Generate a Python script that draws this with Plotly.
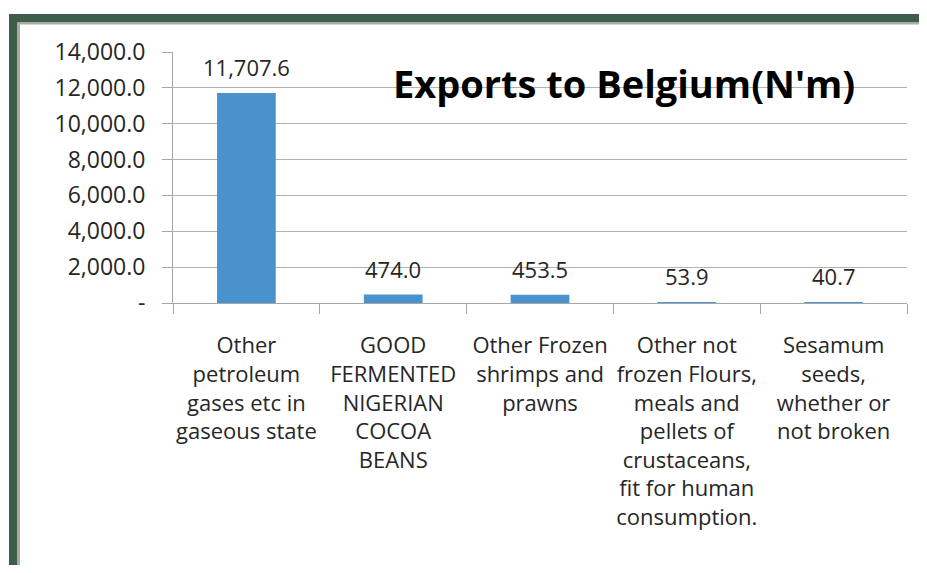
import plotly.graph_objects as go

categories = [
    "Other<br>petroleum<br>gases etc in<br>gaseous state",
    "GOOD<br>FERMENTED<br>NIGERIAN<br>COCOA<br>BEANS",
    "Other Frozen<br>shrimps and<br>prawns",
    "Other not<br>frozen Flours,<br>meals and<br>pellets of<br>crustaceans,<br>fit for human<br>consumption.",
    "Sesamum<br>seeds,<br>whether or<br>not broken",
]
values = [11707.6, 474.0, 453.5, 53.9, 40.7]
value_labels = ["11,707.6", "474.0", "453.5", "53.9", "40.7"]
y_tick_vals = [0, 2000, 4000, 6000, 8000, 10000, 12000, 14000]
y_tick_text = ["-", "2,000.0", "4,000.0", "6,000.0", "8,000.0", "10,000.0", "12,000.0", "14,000.0"]
title_text = "Exports to Belgium(N'm)"

OFF = 8  # default page body margin
W, H = 927 - OFF, 573 - 2 * OFF
L, T = 173 - OFF, 52 - OFF
PW, PH = 734, 251
R = W - L - PW
B = H - T - PH

def px(x):  # page pixel -> paper
    return (x - OFF - L) / PW

def py(y):
    return (T + PH - (y - OFF)) / PH

FONT = "Open Sans"
TXT = "#262626"

fig = go.Figure()
fig.add_trace(go.Bar(x=categories, y=values, marker=dict(color="#4A92CB", line=dict(width=0)),
                     width=0.4, hoverinfo="skip"))

for c, v, lab in zip(categories, values, value_labels):
    fig.add_annotation(x=c, y=v, text=lab, showarrow=False, yanchor="bottom", yshift=9,
                       font=dict(family=FONT, size=22, color=TXT))

fig.add_annotation(xref="paper", yref="paper", x=px(624), y=py(83), text="<b>" + title_text + "</b>",
                   showarrow=False, xanchor="center", yanchor="middle",
                   font=dict(family=FONT, size=38, color="#000000"))

GREEN = "#3E5E4A"
shapes = []
shapes.append(dict(type="rect", xref="paper", yref="paper", x0=px(9), x1=px(927), y0=py(14), y1=py(22.5),
                   fillcolor=GREEN, line=dict(width=0), layer="above"))
shapes.append(dict(type="rect", xref="paper", yref="paper", x0=px(9), x1=px(17.5), y0=py(14), y1=py(573),
                   fillcolor=GREEN, line=dict(width=0), layer="above"))
shapes.append(dict(type="line", xref="paper", yref="paper", x0=px(19), x1=px(19), y0=py(22.5), y1=py(573),
                   line=dict(color="#AAAAAA", width=2), layer="above"))
shapes.append(dict(type="line", xref="paper", yref="paper", x0=px(17.5), x1=px(927), y0=py(23.5), y1=py(23.5),
                   line=dict(color="#AAAAAA", width=2), layer="above"))
fig.update_layout(shapes=shapes)

fig.update_layout(
    width=W, height=H,
    margin=dict(l=L, r=R, t=T, b=B),
    paper_bgcolor="white", plot_bgcolor="white",
    showlegend=False,
    font=dict(family=FONT, size=22, color=TXT),
    xaxis=dict(
        showline=True, linecolor="#A6A6A6", linewidth=1,
        ticks="outside", tickson="boundaries", ticklen=10, tickcolor="#A6A6A6",
        tickfont=dict(family=FONT, size=22, color=TXT),
        tickangle=0,
        ticklabelstandoff=23,
        showgrid=False, fixedrange=True,
    ),
    yaxis=dict(
        range=[0, 14000], tickvals=y_tick_vals, ticktext=y_tick_text,
        showline=True, linecolor="#A6A6A6", linewidth=1,
        ticks="outside", ticklen=10, tickcolor="#A6A6A6",
        showgrid=True, gridcolor="#B3B3B3", gridwidth=1,
        tickfont=dict(family=FONT, size=23, color=TXT),
        ticklabelstandoff=12,
        zeroline=False, fixedrange=True,
    ),
)

fig.write_html("out.html")
